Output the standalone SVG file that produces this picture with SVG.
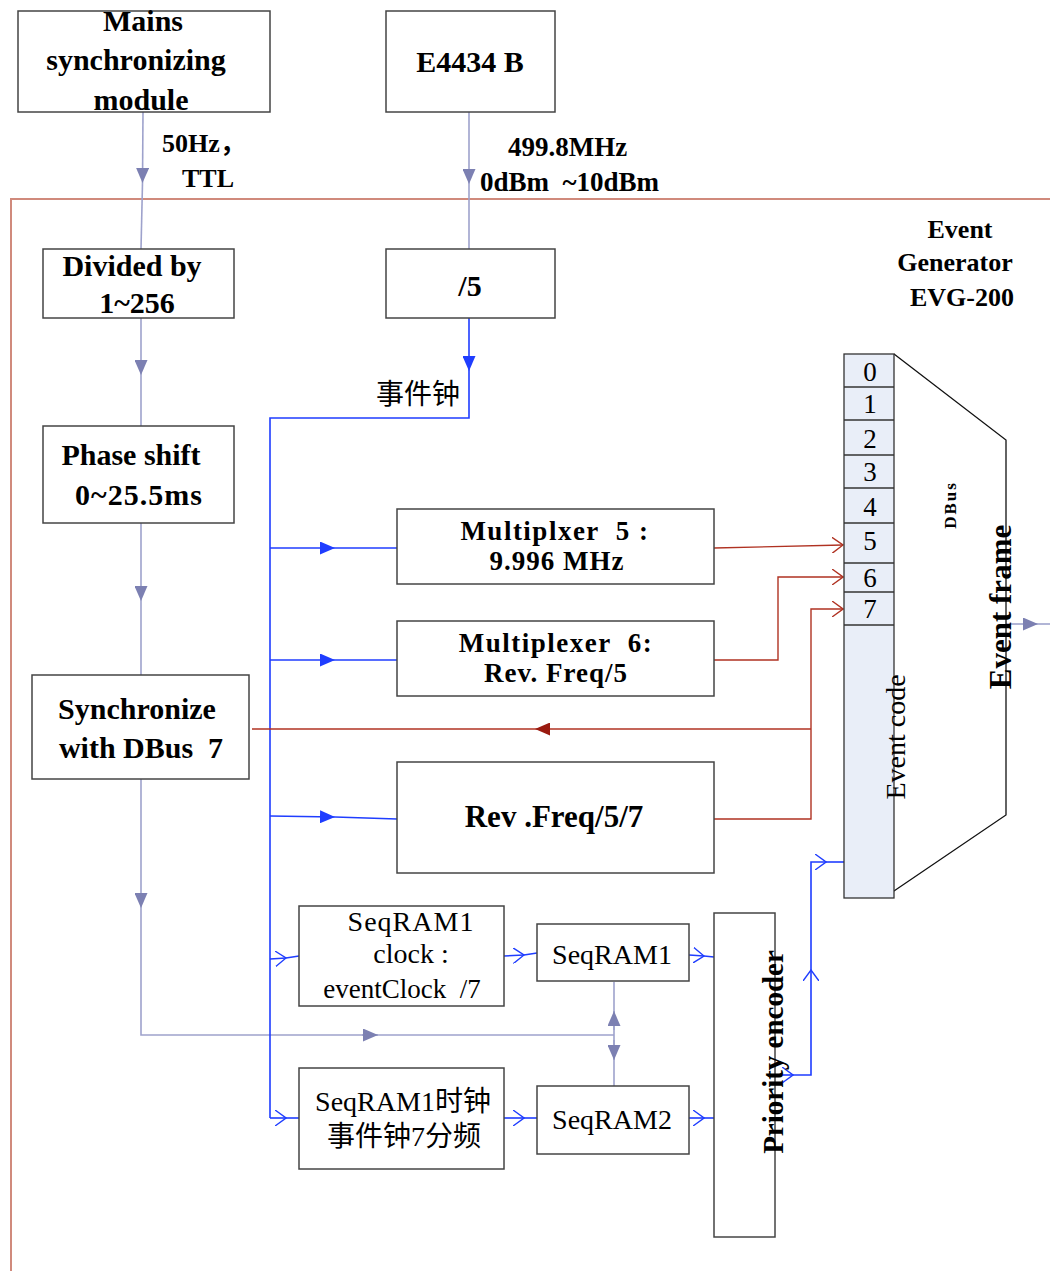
<svg xmlns="http://www.w3.org/2000/svg" width="1050" height="1271" viewBox="0 0 1050 1271">
<style>
.box{fill:#fff;stroke:#444;stroke-width:1.5}
.b{font-family:'Liberation Serif','Noto Sans CJK SC',serif;font-weight:bold;fill:#000;white-space:pre}
.n{font-family:'Liberation Serif','Noto Sans CJK SC',serif;font-weight:normal;fill:#000;white-space:pre}
.c{text-anchor:middle}
.gp{stroke:#9ea2cc;stroke-width:1.6;fill:none}
.bl{stroke:#1f3dff;stroke-width:1.6;fill:none}
.rd{stroke:#b03222;stroke-width:1.4;fill:none}
.frame{stroke:#d08a7c;stroke-width:2;fill:none}
.blk{stroke:#111;stroke-width:1.3;fill:none}
</style>
<defs>
<marker id="tp" markerUnits="userSpaceOnUse" viewBox="0 0 15 13" refX="15" refY="6.5" markerWidth="15" markerHeight="13" orient="auto"><path d="M0,0 L15,6.5 L0,13 z" fill="#7c80b2"/></marker>
<marker id="tb" markerUnits="userSpaceOnUse" viewBox="0 0 15 13" refX="15" refY="6.5" markerWidth="15" markerHeight="13" orient="auto"><path d="M0,0 L15,6.5 L0,13 z" fill="#1f3dff"/></marker>
<marker id="tr" markerUnits="userSpaceOnUse" viewBox="0 0 15 13" refX="15" refY="6.5" markerWidth="15" markerHeight="13" orient="auto"><path d="M0,0 L15,6.5 L0,13 z" fill="#9a1a10"/></marker>
<marker id="ob" markerUnits="userSpaceOnUse" viewBox="0 0 12 16" refX="11" refY="8" markerWidth="12" markerHeight="16" orient="auto"><path d="M0,0 L11,8 L0,16" fill="none" stroke="#1f3dff" stroke-width="1.4"/></marker>
<marker id="or" markerUnits="userSpaceOnUse" viewBox="0 0 12 16" refX="11" refY="8" markerWidth="12" markerHeight="16" orient="auto"><path d="M0,0 L11,8 L0,16" fill="none" stroke="#b03222" stroke-width="1.4"/></marker>
</defs>

<!-- EVG frame -->
<path class="frame" d="M1050,199 H11 V1271"/>

<g id="connectors">
  <!-- grey-purple chain -->
  <line class="gp" x1="143" y1="112" x2="142.5" y2="183" marker-end="url(#tp)"/>
  <line class="gp" x1="142.5" y1="183" x2="141" y2="249"/>
  <line class="gp" x1="469" y1="112" x2="469" y2="184" marker-end="url(#tp)"/>
  <line class="gp" x1="469" y1="184" x2="469" y2="249"/>
  <line class="gp" x1="141" y1="318" x2="141" y2="375" marker-end="url(#tp)"/>
  <line class="gp" x1="141" y1="375" x2="141" y2="426"/>
  <line class="gp" x1="141" y1="523" x2="141" y2="601" marker-end="url(#tp)"/>
  <line class="gp" x1="141" y1="601" x2="141" y2="675"/>
  <line class="gp" x1="141" y1="779" x2="141" y2="908" marker-end="url(#tp)"/>
  <path class="gp" d="M141,908 V1035 H378"/>
  <line class="gp" x1="362" y1="1035" x2="378" y2="1035" marker-end="url(#tp)"/>
  <line class="gp" x1="378" y1="1035" x2="614" y2="1035"/>
  <line class="gp" x1="614" y1="982" x2="614" y2="1086"/>
  <line class="gp" x1="614" y1="1030" x2="614" y2="1011" marker-end="url(#tp)"/>
  <line class="gp" x1="614" y1="1040" x2="614" y2="1060" marker-end="url(#tp)"/>
  <line class="gp" x1="1006" y1="624" x2="1038" y2="624" marker-end="url(#tp)"/>
  <line class="gp" x1="1038" y1="624" x2="1050" y2="624"/>

  <!-- blue event clock -->
  <line class="bl" x1="469" y1="318" x2="469" y2="371" marker-end="url(#tb)"/>
  <path class="bl" d="M469,371 V418 H270 V1118"/>
  <line class="bl" x1="270" y1="548" x2="335" y2="548" marker-end="url(#tb)"/>
  <line class="bl" x1="335" y1="548" x2="397" y2="548"/>
  <line class="bl" x1="270" y1="660" x2="335" y2="660" marker-end="url(#tb)"/>
  <line class="bl" x1="335" y1="660" x2="397" y2="660"/>
  <line class="bl" x1="270" y1="816" x2="335" y2="817" marker-end="url(#tb)"/>
  <line class="bl" x1="335" y1="817" x2="397" y2="819"/>
  <path class="bl" d="M270,959 L286,958" marker-end="url(#ob)"/>
  <line class="bl" x1="286" y1="958" x2="299" y2="956"/>
  <path class="bl" d="M504,956 L524,955" marker-end="url(#ob)"/>
  <line class="bl" x1="524" y1="955" x2="537" y2="953"/>
  <path class="bl" d="M689,955 L704,956" marker-end="url(#ob)"/>
  <line class="bl" x1="704" y1="956" x2="714" y2="957"/>
  <path class="bl" d="M270,1118 L286,1118" marker-end="url(#ob)"/>
  <line class="bl" x1="286" y1="1118" x2="299" y2="1118"/>
  <path class="bl" d="M504,1118 L524,1118" marker-end="url(#ob)"/>
  <line class="bl" x1="524" y1="1118" x2="537" y2="1118"/>
  <path class="bl" d="M689,1118 L704,1118" marker-end="url(#ob)"/>
  <line class="bl" x1="704" y1="1118" x2="714" y2="1118"/>
  <path class="bl" d="M780,1075 L793,1075" marker-end="url(#ob)"/>
  <path class="bl" d="M793,1075 H811 V970" marker-end="url(#ob)"/>
  <path class="bl" d="M811,970 V862 H826" marker-end="url(#ob)"/>
  <line class="bl" x1="826" y1="862" x2="844" y2="862"/>

  <!-- red DBus lines -->
  <path class="rd" d="M714,548 L843,545" marker-end="url(#or)"/>
  <path class="rd" d="M714,660 H778 V577 H843" marker-end="url(#or)"/>
  <path class="rd" d="M714,819 H811 V609 H843" marker-end="url(#or)"/>
  <line class="rd" x1="811" y1="729" x2="535" y2="729" marker-end="url(#tr)"/>
  <line class="rd" x1="535" y1="729" x2="252" y2="729"/>

  <!-- event frame trapezoid -->
  <path class="blk" d="M894,354 L1006,440 V815 L891,893"/>
</g>

<g id="mains">
  <rect class="box" x="18" y="11" width="252" height="101"/>
  <text class="b c" x="143" y="31" font-size="30">Mains</text>
  <text class="b c" x="136" y="70" font-size="30">synchronizing</text>
  <text class="b c" x="141" y="110" font-size="30">module</text>
</g>
<g id="label-50hz">
  <text class="b" x="162" y="152" font-size="26">50Hz，</text>
  <text class="b" x="182" y="187" font-size="26">TTL</text>
</g>
<g id="e4434b">
  <rect class="box" x="386" y="11" width="169" height="101"/>
  <text class="b c" x="470" y="72" font-size="30">E4434 B</text>
</g>
<g id="label-499">
  <text class="b" x="508" y="156" font-size="27">499.8MHz</text>
  <text class="b" x="480" y="191" font-size="27">0dBm  ~10dBm</text>
</g>
<g id="divider">
  <rect class="box" x="43" y="249" width="191" height="69"/>
  <text class="b c" x="132" y="276" font-size="30">Divided by</text>
  <text class="b c" x="137" y="313" font-size="30">1~256</text>
</g>
<g id="div5">
  <rect class="box" x="386" y="249" width="169" height="69"/>
  <text class="b c" x="470" y="296" font-size="30">/5</text>
</g>
<g id="event-clock-label">
  <text class="n" x="376" y="404" font-size="28">事件钟</text>
</g>
<g id="phase">
  <rect class="box" x="43" y="426" width="191" height="97"/>
  <text class="b c" x="131" y="465" font-size="30">Phase shift</text>
  <text class="b c" x="139" y="505" font-size="30" letter-spacing="1">0~25.5ms</text>
</g>
<g id="sync">
  <rect class="box" x="32" y="675" width="217" height="104"/>
  <text class="b c" x="137" y="719" font-size="30">Synchronize</text>
  <text class="b c" x="141" y="758" font-size="30">with DBus  7</text>
</g>
<g id="evg-title">
  <text class="b c" x="960" y="238" font-size="26">Event</text>
  <text class="b c" x="955" y="271" font-size="26">Generator</text>
  <text class="b c" x="962" y="306" font-size="26">EVG-200</text>
</g>
<g id="mux5">
  <rect class="box" x="397" y="509" width="317" height="75"/>
  <text class="b c" x="555" y="540" font-size="27" letter-spacing="1.5">Multiplxer  5 :</text>
  <text class="b c" x="557" y="570" font-size="27" letter-spacing="1">9.996 MHz</text>
</g>
<g id="mux6">
  <rect class="box" x="397" y="621" width="317" height="75"/>
  <text class="b c" x="556" y="652" font-size="27" letter-spacing="1.5">Multiplexer  6:</text>
  <text class="b c" x="556" y="682" font-size="27" letter-spacing="1">Rev. Freq/5</text>
</g>
<g id="rev57">
  <rect class="box" x="397" y="762" width="317" height="111"/>
  <text class="b c" x="554" y="827" font-size="31">Rev .Freq/5/7</text>
</g>
<g id="dbus">
  <rect x="844" y="354" width="50" height="544" fill="#e9eef8" stroke="#333" stroke-width="1.3"/>
  <g stroke="#333" stroke-width="1.3">
    <line x1="844" y1="387" x2="894" y2="387"/>
    <line x1="844" y1="420" x2="894" y2="420"/>
    <line x1="844" y1="455" x2="894" y2="455"/>
    <line x1="844" y1="488" x2="894" y2="488"/>
    <line x1="844" y1="523" x2="894" y2="523"/>
    <line x1="844" y1="563" x2="894" y2="563"/>
    <line x1="844" y1="592" x2="894" y2="592"/>
    <line x1="844" y1="625" x2="894" y2="625"/>
  </g>
  <g font-size="27">
    <text class="n c" x="870" y="381">0</text>
    <text class="n c" x="870" y="413">1</text>
    <text class="n c" x="870" y="448">2</text>
    <text class="n c" x="870" y="481">3</text>
    <text class="n c" x="870" y="516">4</text>
    <text class="n c" x="870" y="550">5</text>
    <text class="n c" x="870" y="587">6</text>
    <text class="n c" x="870" y="618">7</text>
  </g>
  <text class="n c" font-size="28" transform="translate(905,737) rotate(-90)">Event code</text>
</g>
<g id="dbus-label">
  <text class="b c" font-size="17" letter-spacing="2" transform="translate(956,505) rotate(-90)">DBus</text>
</g>
<g id="event-frame">
  <text class="b c" font-size="31" transform="translate(1011,607) rotate(-90)">Event frame</text>
</g>
<g id="seqram1-clock">
  <rect class="box" x="299" y="906" width="205" height="100"/>
  <text class="n c" x="411" y="931" font-size="28" letter-spacing="1">SeqRAM1</text>
  <text class="n c" x="411" y="963" font-size="28">clock :</text>
  <text class="n c" x="402" y="998" font-size="27">eventClock  /7</text>
</g>
<g id="seqram1">
  <rect class="box" x="537" y="924" width="152" height="57"/>
  <text class="n c" x="612" y="964" font-size="28">SeqRAM1</text>
</g>
<g id="seqram2-clock">
  <rect class="box" x="299" y="1068" width="205" height="101"/>
  <text class="n c" x="403" y="1111" font-size="28">SeqRAM1时钟</text>
  <text class="n c" x="404" y="1146" font-size="28">事件钟7分频</text>
</g>
<g id="seqram2">
  <rect class="box" x="537" y="1086" width="152" height="68"/>
  <text class="n c" x="612" y="1129" font-size="28">SeqRAM2</text>
</g>
<g id="priority">
  <rect class="box" x="714" y="913" width="61" height="324"/>
  <text class="b c" font-size="29" transform="translate(783,1052) rotate(-90)">Priority encoder</text>
</g>
</svg>
